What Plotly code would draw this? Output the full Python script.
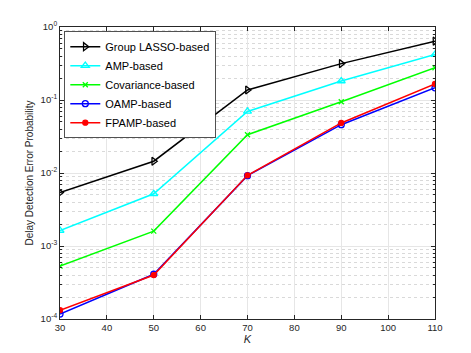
import plotly.graph_objects as go

# data
K = [30, 50, 70, 90, 110]
group_lasso = [5.4e-3, 1.45e-2, 0.137, 0.315, 0.64]
amp = [1.63e-3, 5.2e-3, 0.0697, 0.182, 0.42]
covariance = [5.3e-4, 1.6e-3, 0.0334, 0.0946, 0.277]
oamp = [1.17e-4, 4.1e-4, 9.2e-3, 0.0459, 0.147]
fpamp = [1.32e-4, 4.0e-4, 9.3e-3, 0.0485, 0.166]

y_ticks = [1e-4, 1e-3, 1e-2, 1e-1, 1]
y_labels = ["10<sup>-4</sup>", "10<sup>-3</sup>", "10<sup>-2</sup>",
            "10<sup>-1</sup>", "10<sup>0</sup>"]

series = [
    ("Group LASSO-based", group_lasso, "black", "triangle-right-open", 7),
    ("AMP-based", amp, "#00FFFF", "triangle-up-open", 7),
    ("Covariance-based", covariance, "#00FF00", "x-thin-open", 5),
    ("OAMP-based", oamp, "blue", "circle-open", 6),
    ("FPAMP-based", fpamp, "red", "circle", 5),
]

fig = go.Figure()
for name, vals, col, sym, sz in series:
    fig.add_trace(go.Scatter(
        x=K, y=vals, name=name, mode="lines+markers",
        line=dict(color=col, width=1.5),
        marker=dict(symbol=sym, size=sz, color=col,
                    line=dict(color=col, width=1.3)),
    ))

axis_font = dict(family="Liberation Sans, Arial", size=9.5, color="#262626")

# page body has an 8px margin, so the figure is a bit smaller than the window
fig.update_layout(
    width=463, height=345,
    margin=dict(l=52, r=36, t=19, b=31),
    paper_bgcolor="white", plot_bgcolor="white",
    font=axis_font,
    showlegend=True,
    legend=dict(
        x=0.012, y=0.985, xanchor="left", yanchor="top",
        bgcolor="white", bordercolor="#262626", borderwidth=0.8,
        font=dict(family="Liberation Sans, Arial", size=11, color="black"),
        tracegroupgap=0, itemwidth=30,
    ),
    xaxis=dict(
        range=[30, 110], dtick=10, tick0=30,
        showgrid=True, gridcolor="#e6e6e6", gridwidth=1,
        showline=True, linecolor="#262626", linewidth=1, mirror="allticks",
        ticks="inside", ticklen=4, tickcolor="#262626",
        zeroline=False,
        title=dict(text="<i>K</i>", standoff=0, font=dict(size=11)),
    ),
    yaxis=dict(
        type="log", range=[-4, 0],
        tickvals=y_ticks, ticktext=y_labels,
        showgrid=True, gridcolor="#e6e6e6", gridwidth=1,
        showline=True, linecolor="#262626", linewidth=1, mirror="allticks",
        ticks="inside", ticklen=4, tickcolor="#262626",
        ticklabelstandoff=0,
        minor=dict(dtick="D1", showgrid=True, gridcolor="#d9d9d9",
                   griddash="dot", ticks="inside", ticklen=2,
                   tickcolor="#262626"),
        zeroline=False,
        title=dict(text="Delay Detection Error Probability", standoff=5,
                   font=dict(size=10)),
    ),
)

fig.write_html("out.html")
